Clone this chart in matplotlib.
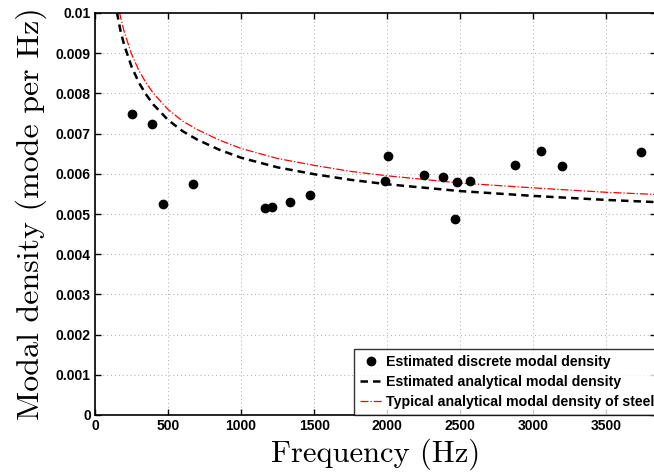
import matplotlib
matplotlib.use("Agg")
import matplotlib.pyplot as plt

# Discrete estimated modal density (frequency Hz, modes per Hz)
disc_freq = [251, 388, 468, 669, 1164, 1210, 1336, 1473, 1986, 2005,
             2253, 2379, 2466, 2479, 2564, 2872, 3052, 3194, 3740]
disc_dens = [0.00749, 0.00724, 0.00525, 0.00575, 0.00514, 0.00518, 0.00530,
             0.00548, 0.00581, 0.00645, 0.00597, 0.00593, 0.00487, 0.00580,
             0.00583, 0.00621, 0.00657, 0.00619, 0.00653]

# Analytical curves
curve_freq = [150, 175, 200, 250, 300, 350, 400, 500, 600, 700, 850, 1000,
              1250, 1500, 1750, 2000, 2500, 3000, 3500, 4000]
est_dens = [0.01002, 0.00955, 0.00920, 0.00867, 0.00827, 0.00797, 0.00772,
            0.00734, 0.00706, 0.00685, 0.00660, 0.00640, 0.00616, 0.00599,
            0.00585, 0.00574, 0.00557, 0.00545, 0.00535, 0.00527]
steel_dens = [0.01036, 0.00989, 0.00953, 0.00898, 0.00857, 0.00826, 0.00800,
              0.00760, 0.00731, 0.00710, 0.00684, 0.00663, 0.00638, 0.00621,
              0.00606, 0.00595, 0.00577, 0.00565, 0.00554, 0.00546]

xticks = [0, 500, 1000, 1500, 2000, 2500, 3000, 3500]
yticks = [0, 0.001, 0.002, 0.003, 0.004, 0.005, 0.006, 0.007, 0.008, 0.009, 0.01]
ytick_labels = ["0", "0.001", "0.002", "0.003", "0.004", "0.005", "0.006",
                "0.007", "0.008", "0.009", "0.01"]

W, H = 654, 472
fig = plt.figure(figsize=(W / 100, H / 100), dpi=100)
left, right, top, bottom = 95, 656, 13, 415
ax = fig.add_axes([left / W, (H - bottom) / H, (right - left) / W, (bottom - top) / H])

ax.plot(disc_freq, disc_dens, "o", color="black", markersize=6,
        label="Estimated discrete modal density", zorder=5)
ax.plot(curve_freq, est_dens, "--", color="black", linewidth=1.8,
        dashes=(3, 2), label="Estimated analytical modal density")
ax.plot(curve_freq, steel_dens, "-.", color="red", linewidth=0.9,
        label="Typical analytical modal density of steel")

ax.set_xlim(0, 3840)
ax.set_ylim(0, 0.01)
ax.set_xticks(xticks)
ax.set_xticklabels([str(t) for t in xticks])
ax.set_yticks(yticks)
ax.set_yticklabels(ytick_labels)

ax.grid(True, linestyle=(0, (1, 3)), color="#aaaaaa", linewidth=0.7)
ax.tick_params(direction="in", top=True, right=True, length=4, width=1,
               labelsize=10, pad=3)
for lab in ax.get_xticklabels() + ax.get_yticklabels():
    lab.set_fontfamily("Liberation Sans")
    lab.set_fontweight("bold")
for sp in ax.spines.values():
    sp.set_linewidth(1.2)

ax.set_xlabel("Frequency (Hz)", fontfamily="cmr10", fontsize=22, labelpad=4)
ax.set_ylabel("Modal density (mode per Hz)", fontfamily="cmr10", fontsize=23,
              labelpad=6)

x0 = (354 - left) / (right - left)
leg = ax.legend(loc="lower left", bbox_to_anchor=(x0, 0.0),
                prop={"family": "Liberation Sans", "weight": "bold", "size": 10.2},
                frameon=True, fancybox=False, edgecolor="black",
                handlelength=1.6, handletextpad=0.25, borderpad=0.4,
                labelspacing=0.45, borderaxespad=0)
leg.get_frame().set_linewidth(1.0)

fig.savefig("out.png", dpi=100)
